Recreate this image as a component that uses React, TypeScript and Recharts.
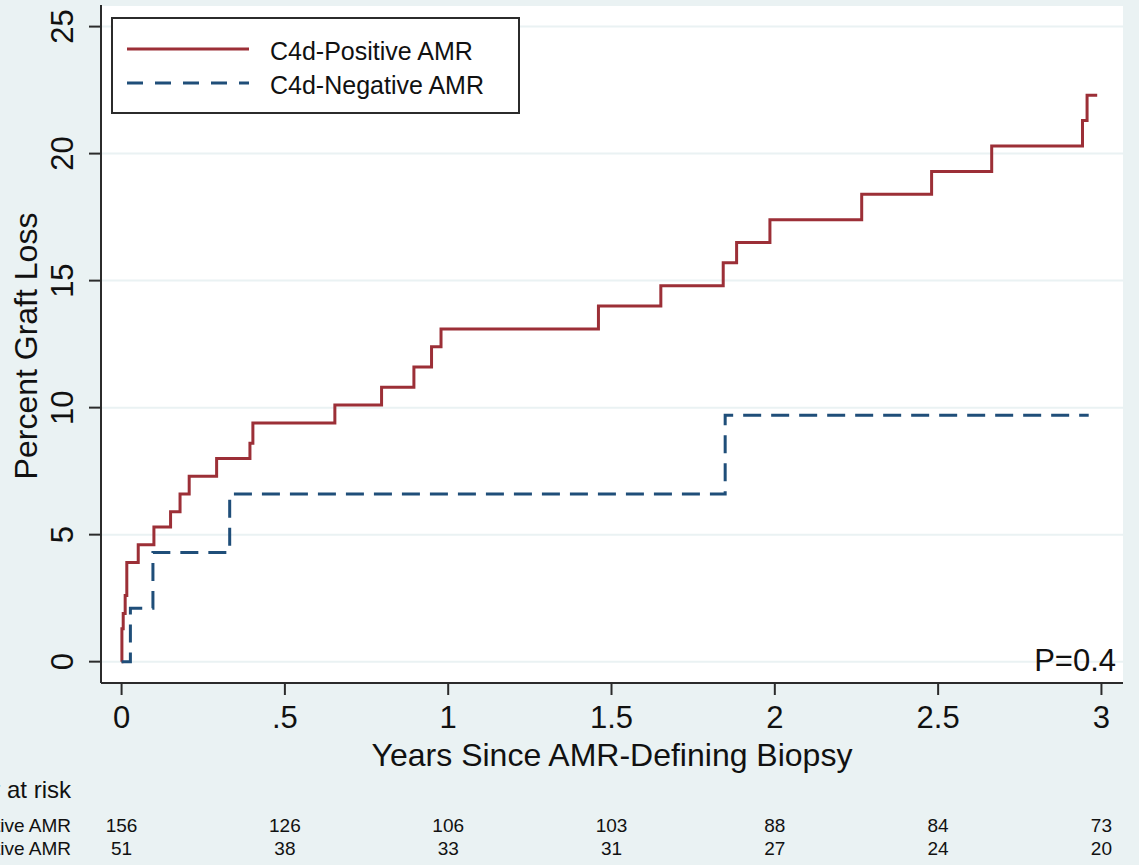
import React from 'react'
import { LineChart, Line, XAxis, YAxis, CartesianGrid, Legend, Customized } from 'recharts'

const FONT = '"Liberation Sans", Arial, Helvetica, sans-serif'
const BG = '#EAF2F3'
const INK = '#111'
const AXIS = '#2b2b2b'

// Kaplan-Meier steps (years, percent graft loss)
const posTimes = [0, 0.001, 0.005, 0.011, 0.016, 0.051, 0.099, 0.15, 0.179, 0.207, 0.291, 0.393, 0.402, 0.653, 0.796, 0.895, 0.949, 0.978, 1.46, 1.651, 1.842, 1.883, 1.985, 2.266, 2.48, 2.664, 2.942, 2.956, 2.987]
const posValues = [0, 1.3, 1.9, 2.6, 3.9, 4.6, 5.3, 5.9, 6.6, 7.3, 8.0, 8.6, 9.4, 10.1, 10.8, 11.6, 12.4, 13.1, 14.0, 14.8, 15.7, 16.5, 17.4, 18.4, 19.3, 20.3, 21.3, 22.3, 22.3]
const negTimes = [0, 0.027, 0.096, 0.331, 1.848, 2.961]
const negValues = [0, 2.1, 4.3, 6.6, 9.7, 9.7]

const xTicks = [0, 0.5, 1, 1.5, 2, 2.5, 3]
const xTickLabels = ['0', '.5', '1', '1.5', '2', '2.5', '3']
const yTicks = [0, 5, 10, 15, 20, 25]
const riskPositive = [156, 126, 106, 103, 88, 84, 73]
const riskNegative = [51, 38, 33, 31, 27, 24, 20]

const toPoints = (times: number[], values: number[]) => times.map((t, i) => ({ t, v: values[i] }))

const series = [
  { key: 'pos', name: 'C4d-Positive AMR', color: '#9C2F37', dash: undefined as string | undefined, data: toPoints(posTimes, posValues) },
  { key: 'neg', name: 'C4d-Negative AMR', color: '#1F4E79', dash: '18 10', data: toPoints(negTimes, negValues) },
]

const X_DOMAIN: [number, number] = [-0.063, 3.066]
const Y_DOMAIN: [number, number] = [-0.84, 25.85]

function XTick({ x, y, payload }: any) {
  const i = xTicks.indexOf(payload.value)
  return (
    <text x={x} y={y + 31} textAnchor="middle" fontSize={31} fill={INK} fontFamily={FONT}>
      {xTickLabels[i] ?? payload.value}
    </text>
  )
}

function YTick({ x, y, payload }: any) {
  const px = x - 14
  return (
    <text x={px} y={y} transform={`rotate(-90, ${px}, ${y})`} textAnchor="middle" fontSize={31} fill={INK} fontFamily={FONT}>
      {payload.value}
    </text>
  )
}

function riskTick(values: number[], dy: number) {
  return ({ x, y, payload }: any) => {
    const i = xTicks.indexOf(payload.value)
    return (
      <text x={x} y={y + dy} textAnchor="middle" fontSize={19} fill={INK} fontFamily={FONT}>
        {values[i]}
      </text>
    )
  }
}

function LegendBox() {
  return (
    <div style={{ width: 405, height: 93, border: `2px solid ${AXIS}`, background: '#fff', position: 'relative' }}>
      <svg width={405} height={93} style={{ position: 'absolute', left: 0, top: 0 }}>
        {series.map((s, i) => (
          <g key={s.key}>
            <line x1={14} x2={136} y1={30 + i * 34} y2={30 + i * 34} stroke={s.color} strokeWidth={3} strokeDasharray={s.dash ? '16 12' : undefined} />
            <text x={157} y={41 + i * 34} fontSize={25} fill={INK} fontFamily={FONT}>{s.name}</text>
          </g>
        ))}
      </svg>
    </div>
  )
}

export default function App() {
  return (
    <div style={{ position: 'absolute', left: 0, top: 0, width: 1139, height: 865, background: BG, overflow: 'hidden' }}>
      <LineChart width={1139} height={865} margin={{ top: 5, right: 16, left: 0, bottom: 0 }}>
        <CartesianGrid vertical={false} stroke={BG} strokeWidth={2} fill="#fff" />
        <XAxis
          xAxisId="main"
          type="number"
          dataKey="t"
          domain={X_DOMAIN}
          ticks={xTicks}
          allowDataOverflow
          height={130}
          tickSize={12}
          tickMargin={2}
          axisLine={{ stroke: AXIS, strokeWidth: 2 }}
          tickLine={{ stroke: AXIS, strokeWidth: 2 }}
          tick={<XTick />}
          label={(p: any) => {
            const vb = p.viewBox || { x: 101, y: 683, width: 1022 }
            return (
              <text x={vb.x + vb.width / 2} y={vb.y + 83} textAnchor="middle" fontSize={32} fill={INK} fontFamily={FONT}>
                Years Since AMR-Defining Biopsy
              </text>
            )
          }}
        />
        <XAxis
          xAxisId="risk1"
          type="number"
          dataKey="t"
          domain={X_DOMAIN}
          ticks={xTicks}
          allowDataOverflow
          height={24}
          tickSize={0}
          tickMargin={0}
          axisLine={false}
          tickLine={false}
          tick={riskTick(riskPositive, 19)}
          label={(p: any) => {
            const vb = p.viewBox || { x: 101, y: 813 }
            return (
              <g fontFamily={FONT} fill={INK}>
                <text x={vb.x - 30} y={vb.y - 15} textAnchor="end" fontSize={24}>Number at risk</text>
                <text x={vb.x - 30} y={vb.y + 19} textAnchor="end" fontSize={19}>{series[0].name}</text>
              </g>
            )
          }}
        />
        <XAxis
          xAxisId="risk2"
          type="number"
          dataKey="t"
          domain={X_DOMAIN}
          ticks={xTicks}
          allowDataOverflow
          height={28}
          tickSize={0}
          tickMargin={0}
          axisLine={false}
          tickLine={false}
          tick={riskTick(riskNegative, 18)}
          label={(p: any) => {
            const vb = p.viewBox || { x: 101, y: 837 }
            return (
              <text x={vb.x - 30} y={vb.y + 18} textAnchor="end" fontSize={19} fill={INK} fontFamily={FONT}>
                {series[1].name}
              </text>
            )
          }}
        />
        <YAxis
          type="number"
          domain={Y_DOMAIN}
          ticks={yTicks}
          allowDataOverflow
          width={101}
          tickSize={12}
          tickMargin={2}
          axisLine={{ stroke: AXIS, strokeWidth: 2 }}
          tickLine={{ stroke: AXIS, strokeWidth: 2 }}
          tick={<YTick />}
          label={(p: any) => {
            const vb = p.viewBox || { y: 5, height: 678 }
            const cy = vb.y + vb.height / 2 + 2
            return (
              <text x={37} y={cy} transform={`rotate(-90, 37, ${cy})`} textAnchor="middle" fontSize={32} fill={INK} fontFamily={FONT}>
                Percent Graft Loss
              </text>
            )
          }}
        />
        <Legend
          layout="horizontal"
          align="center"
          verticalAlign="middle"
          content={() => <LegendBox />}
          wrapperStyle={{ left: 111, top: 17, width: 409, height: 97 }}
        />
        {series.map((s) => (
          <Line
            key={s.key}
            xAxisId="main"
            data={s.data}
            dataKey="v"
            name={s.name}
            type="stepAfter"
            stroke={s.color}
            strokeWidth={3}
            strokeDasharray={s.dash}
            dot={false}
            activeDot={false}
            isAnimationActive={false}
          />
        ))}
        <Customized
          component={() => (
            <text x={1116} y={671} textAnchor="end" fontSize={31} fill={INK} fontFamily={FONT}>
              P=0.4
            </text>
          )}
        />
      </LineChart>
    </div>
  )
}
